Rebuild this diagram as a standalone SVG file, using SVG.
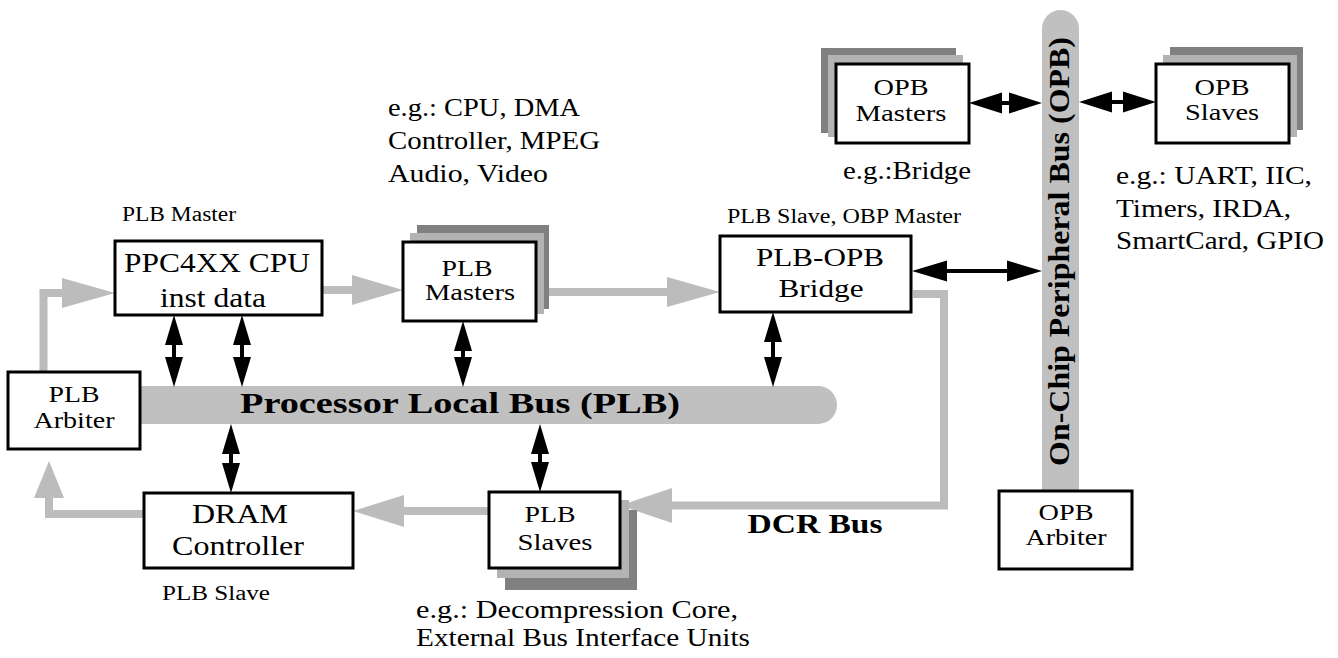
<svg xmlns="http://www.w3.org/2000/svg" width="1338" height="658" viewBox="0 0 1338 658">
<style>
text{font-family:"Liberation Serif","DejaVu Serif",serif;fill:#000}
.big{font-size:26px}
.box{text-anchor:middle}
.sm{font-size:20px}
.bold{font-weight:bold}
.node{fill:#fff;stroke:#000;stroke-width:3}
.dk{fill:#808080}
.lt{fill:#b3b3b3}
.bus{fill:#c0c0c0}
.g{fill:none;stroke:#bcbcbc;stroke-width:8}
.gh{fill:#bcbcbc}
.k{fill:none;stroke:#000;stroke-width:4}
.kh{fill:#000}
</style>

<g id="buses">
<path class="bus" d="M140 386 H818 A19 19 0 0 1 818 424 H140 Z"/>
<text class="bold" x="240" y="413" font-size="30" textLength="440" lengthAdjust="spacingAndGlyphs">Processor Local Bus (PLB)</text>
<path class="bus" d="M1042 491 V28.5 A18.5 18.5 0 0 1 1079 28.5 V491 Z"/>
<text class="bold" font-size="30" text-anchor="middle" textLength="429" lengthAdjust="spacingAndGlyphs" transform="translate(1069 251.5) rotate(-90)">On-Chip Peripheral Bus (OPB)</text>
</g>

<g id="connectors">
<path class="g" d="M43.5 372 V293 H64"/>
<polygon class="gh" points="62,278 115,293 62,308"/>
<path class="g" d="M322 290 H354"/>
<polygon class="gh" points="352,275 403,290 352,305"/>
<path class="g" d="M536 292 H669"/>
<polygon class="gh" points="667,277 720,292 667,307"/>
<path class="g" d="M913 294 H944 V505.5 H670"/>
<polygon class="gh" points="672,488 620,505.5 672,523"/>
<path class="g" d="M489 511 H402"/>
<polygon class="gh" points="404,495 353,511 404,527"/>
<path class="g" d="M144 514 H49 V496"/>
<polygon class="gh" points="34,498 49,461 64,498"/>

<g>
<line class="k" x1="174" y1="340" x2="174" y2="362"/>
<polygon class="kh" points="165,345 174,315 183,345"/>
<polygon class="kh" points="165,357 174,387 183,357"/>
<line class="k" x1="242" y1="340" x2="242" y2="362"/>
<polygon class="kh" points="233,345 242,315 251,345"/>
<polygon class="kh" points="233,357 242,387 251,357"/>
<line class="k" x1="463" y1="346" x2="463" y2="362"/>
<polygon class="kh" points="454,351 463,321 472,351"/>
<polygon class="kh" points="454,357 463,387 472,357"/>
<line class="k" x1="773" y1="337" x2="773" y2="362"/>
<polygon class="kh" points="764,342 773,312 782,342"/>
<polygon class="kh" points="764,357 773,387 782,357"/>
<line class="k" x1="231" y1="450" x2="231" y2="468"/>
<polygon class="kh" points="222,454 231,424 240,454"/>
<polygon class="kh" points="222,463 231,493 240,463"/>
<line class="k" x1="540" y1="450" x2="540" y2="467"/>
<polygon class="kh" points="531,454 540,424 549,454"/>
<polygon class="kh" points="531,462 540,492 549,462"/>
</g>
<g>
<line class="k" x1="1000" y1="103" x2="1012" y2="103"/>
<polygon class="kh" points="1002,92.5 969,103 1002,113.5"/>
<polygon class="kh" points="1009,92.5 1042,103 1009,113.5"/>
<line class="k" x1="1110" y1="102" x2="1125" y2="102"/>
<polygon class="kh" points="1112,91.5 1079,102 1112,112.5"/>
<polygon class="kh" points="1123,91.5 1156,102 1123,112.5"/>
<line class="k" x1="945" y1="271" x2="1009" y2="271"/>
<polygon class="kh" points="947,260.5 912,271 947,281.5"/>
<polygon class="kh" points="1007,260.5 1042,271 1007,281.5"/>
</g>
</g>

<g id="cpu">
<rect class="node" x="115" y="241" width="207" height="74"/>
<text class="box" x="217" y="272" font-size="27" textLength="186" lengthAdjust="spacingAndGlyphs">PPC4XX CPU</text>
<text class="box" x="213" y="307" font-size="27" textLength="106" lengthAdjust="spacingAndGlyphs">inst data</text>
</g>
<g id="arbiter">
<rect class="node" x="8" y="372" width="132" height="77"/>
<text class="box" x="74" y="402" font-size="24" textLength="51" lengthAdjust="spacingAndGlyphs">PLB</text>
<text class="box" x="74" y="428" font-size="24" textLength="81" lengthAdjust="spacingAndGlyphs">Arbiter</text>
</g>
<g id="plb-masters">
<rect class="dk" x="417" y="225" width="132" height="84"/>
<rect class="lt" x="410" y="233" width="134" height="81"/>
<rect class="node" x="403" y="242" width="133" height="79"/>
<text class="box" x="467" y="276" font-size="24" textLength="51" lengthAdjust="spacingAndGlyphs">PLB</text>
<text class="box" x="470" y="300" font-size="24" textLength="90" lengthAdjust="spacingAndGlyphs">Masters</text>
</g>
<g id="bridge">
<rect class="node" x="720" y="236" width="191" height="76"/>
<text class="box" x="820" y="266" font-size="26" textLength="128" lengthAdjust="spacingAndGlyphs">PLB-OPB</text>
<text class="box" x="821" y="297" font-size="26" textLength="85" lengthAdjust="spacingAndGlyphs">Bridge</text>
</g>
<g id="opb-masters">
<rect class="dk" x="821" y="48" width="135" height="85"/>
<rect class="lt" x="828" y="55" width="135" height="82"/>
<rect class="node" x="836" y="64" width="133" height="79"/>
<text class="box" x="901" y="95" font-size="24" textLength="55" lengthAdjust="spacingAndGlyphs">OPB</text>
<text class="box" x="901" y="121" font-size="24" textLength="91" lengthAdjust="spacingAndGlyphs">Masters</text>
</g>
<g id="opb-slaves">
<rect class="dk" x="1170" y="47" width="133" height="83"/>
<rect class="lt" x="1163" y="55" width="134" height="82"/>
<rect class="node" x="1156" y="64" width="133" height="79"/>
<text class="box" x="1222" y="95" font-size="24" textLength="55" lengthAdjust="spacingAndGlyphs">OPB</text>
<text class="box" x="1222" y="120" font-size="24" textLength="74" lengthAdjust="spacingAndGlyphs">Slaves</text>
</g>
<g id="dram">
<rect class="node" x="144" y="493" width="209" height="75"/>
<text class="box" x="240" y="523" font-size="27" textLength="96" lengthAdjust="spacingAndGlyphs">DRAM</text>
<text class="box" x="238" y="555" font-size="27" textLength="132" lengthAdjust="spacingAndGlyphs">Controller</text>
</g>
<g id="plb-slaves">
<rect class="dk" x="505" y="510" width="132" height="80"/>
<rect class="lt" x="497" y="500" width="132" height="78"/>
<rect class="node" x="489" y="492" width="131" height="76"/>
<text class="box" x="550" y="522" font-size="24" textLength="51" lengthAdjust="spacingAndGlyphs">PLB</text>
<text class="box" x="555" y="550" font-size="24" textLength="75" lengthAdjust="spacingAndGlyphs">Slaves</text>
</g>
<g id="opb-arbiter">
<rect class="node" x="999" y="491" width="133" height="78"/>
<text class="box" x="1066" y="520" font-size="24" textLength="55" lengthAdjust="spacingAndGlyphs">OPB</text>
<text class="box" x="1066" y="545" font-size="24" textLength="81" lengthAdjust="spacingAndGlyphs">Arbiter</text>
</g>

<g id="labels">
<text class="big" x="388" y="116" textLength="192" lengthAdjust="spacingAndGlyphs">e.g.: CPU, DMA</text>
<text class="big" x="388" y="149" textLength="212" lengthAdjust="spacingAndGlyphs">Controller, MPEG</text>
<text class="big" x="388" y="182" textLength="160" lengthAdjust="spacingAndGlyphs">Audio, Video</text>
<text class="sm" x="122" y="221" textLength="114" lengthAdjust="spacingAndGlyphs">PLB Master</text>
<text class="sm" x="727" y="223" textLength="234" lengthAdjust="spacingAndGlyphs">PLB Slave, OBP Master</text>
<text class="big" x="843" y="179" textLength="128" lengthAdjust="spacingAndGlyphs">e.g.:Bridge</text>
<text class="big" x="1116" y="184" textLength="196" lengthAdjust="spacingAndGlyphs">e.g.: UART, IIC,</text>
<text class="big" x="1116" y="217" textLength="175" lengthAdjust="spacingAndGlyphs">Timers, IRDA,</text>
<text class="big" x="1116" y="249" textLength="208" lengthAdjust="spacingAndGlyphs">SmartCard, GPIO</text>
<text class="sm" x="162" y="600" textLength="108" lengthAdjust="spacingAndGlyphs">PLB Slave</text>
<text class="big" x="416" y="618" textLength="322" lengthAdjust="spacingAndGlyphs">e.g.: Decompression Core,</text>
<text class="big" x="416" y="646" textLength="334" lengthAdjust="spacingAndGlyphs">External Bus Interface Units</text>
<text class="bold" x="815" y="533" font-size="27" text-anchor="middle" textLength="135" lengthAdjust="spacingAndGlyphs">DCR Bus</text>
</g>
</svg>
